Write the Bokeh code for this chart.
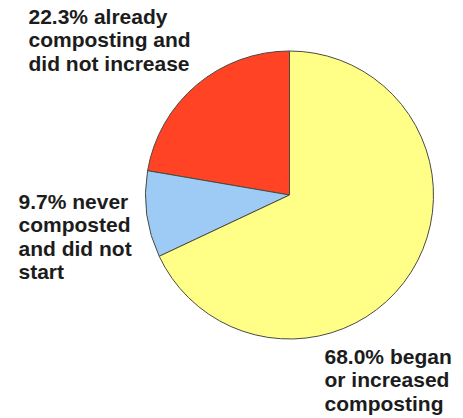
import math
from bokeh.plotting import figure
from bokeh.models import Range1d, ColumnDataSource
from bokeh.core.properties import value
from bokeh.embed import file_html
from bokeh.resources import INLINE

# Data
categories = ["already composting and did not increase", "never composted and did not start", "began or increased composting"]
percents = [22.3, 9.7, 68.0]
labels = [
    "22.3% already\ncomposting and\ndid not increase",
    "9.7% never\ncomposted\nand did not\nstart",
    "68.0% began\nor increased\ncomposting",
]
colors = ["#FF4324", "#9ECBF6", "#FFFF87"]

W, H = 463, 418
p = figure(width=W, height=H, output_backend="svg", toolbar_location=None,
           x_range=Range1d(0, W), y_range=Range1d(0, H), min_border=0)
p.axis.visible = False
p.grid.visible = False
p.outline_line_color = None
p.background_fill_color = "white"

cx, cy, r = 289, H - 194.5, 144
start = math.pi / 2
starts, ends = [], []
for pct in percents:
    a = pct / 100 * 2 * math.pi
    starts.append(start)
    ends.append(start + a)
    start += a

src = ColumnDataSource(dict(start=starts, end=ends, color=colors, cat=categories))
p.wedge(x=cx, y=cy, radius=r, start_angle="start", end_angle="end",
        fill_color="color", line_color="#4a4a40", line_width=1, source=src)

lx = [28, 18, 324]
ly = [H - 4.5, H - 189.5, H - 344.5]
tsrc = ColumnDataSource(dict(x=lx, y=ly, t=labels))
p.text(x="x", y="y", text="t", source=tsrc, text_font=value("Liberation Sans"),
       text_font_style="bold", text_font_size="21px", text_color="#1c1c1c",
       text_baseline="top", text_align="left", text_line_height=1.02)

open("out.html", "w").write(file_html(p, INLINE))
